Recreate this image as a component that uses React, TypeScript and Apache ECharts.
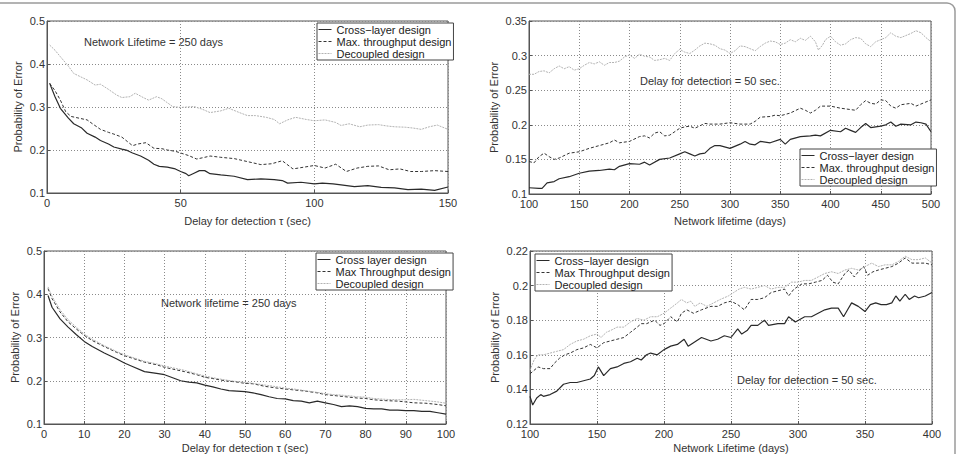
import React, { useEffect, useRef } from "react";
import * as echarts from "echarts";

const FONT = "'Liberation Sans', Arial, Helvetica, sans-serif";

type Pt = [number, number];

// Top-left: error vs detection delay (network lifetime 250 days)
const aCross: Pt[] = [
  [1, 0.355], [3, 0.324], [5, 0.297], [8, 0.274], [10, 0.261], [13, 0.251], [15, 0.239], [18, 0.23],
  [20, 0.222], [23, 0.214], [25, 0.207], [28, 0.202], [30, 0.199], [32, 0.193], [35, 0.186], [38, 0.176],
  [40, 0.167], [42, 0.162], [45, 0.16], [48, 0.156], [50, 0.15], [52, 0.145], [53, 0.14], [55, 0.146],
  [57, 0.152], [59, 0.152], [61, 0.145], [65, 0.142], [70, 0.139], [75, 0.131], [80, 0.133], [85, 0.131],
  [88, 0.129], [90, 0.123], [95, 0.125], [100, 0.121], [103, 0.123], [107, 0.121], [110, 0.119], [115, 0.115],
  [120, 0.117], [125, 0.113], [130, 0.112], [135, 0.108], [140, 0.109], [145, 0.106], [150, 0.114],
];
const aMax: Pt[] = [
  [1, 0.355], [3, 0.338], [5, 0.316], [7, 0.289], [9, 0.278], [12, 0.274], [15, 0.27], [17, 0.261],
  [20, 0.248], [23, 0.241], [25, 0.237], [28, 0.23], [30, 0.22], [32, 0.21], [34, 0.214], [37, 0.217],
  [40, 0.204], [43, 0.203], [45, 0.2], [48, 0.197], [50, 0.193], [53, 0.187], [56, 0.179], [59, 0.183],
  [61, 0.186], [65, 0.183], [70, 0.18], [75, 0.173], [80, 0.166], [84, 0.168], [88, 0.175], [92, 0.156],
  [95, 0.159], [100, 0.164], [104, 0.158], [108, 0.167], [112, 0.15], [116, 0.158], [120, 0.162], [124, 0.163],
  [128, 0.154], [132, 0.156], [136, 0.15], [140, 0.15], [145, 0.152], [150, 0.15],
];
const aDecoupled: Pt[] = [
  [1, 0.444], [3, 0.432], [5, 0.417], [8, 0.395], [10, 0.378], [12, 0.372], [15, 0.363], [18, 0.351],
  [20, 0.353], [23, 0.341], [26, 0.328], [28, 0.322], [31, 0.324], [33, 0.332], [36, 0.322], [38, 0.316],
  [41, 0.324], [43, 0.319], [45, 0.31], [47, 0.301], [50, 0.299], [55, 0.301], [58, 0.295], [61, 0.287],
  [65, 0.291], [68, 0.297], [72, 0.287], [75, 0.28], [78, 0.28], [82, 0.276], [85, 0.271], [87, 0.261],
  [90, 0.27], [93, 0.276], [97, 0.271], [100, 0.268], [104, 0.27], [108, 0.264], [110, 0.257], [113, 0.261],
  [117, 0.254], [120, 0.258], [124, 0.259], [127, 0.256], [130, 0.254], [134, 0.253], [137, 0.251], [140, 0.248],
  [143, 0.254], [146, 0.258], [150, 0.248],
];

// Top-right: error vs network lifetime (detection delay 50 s)
const bCross: Pt[] = [
  [100, 0.109], [110, 0.108], [113, 0.108], [118, 0.116], [125, 0.118], [130, 0.122], [140, 0.125], [150, 0.13],
  [160, 0.133], [170, 0.134], [180, 0.136], [185, 0.135], [190, 0.14], [200, 0.144], [210, 0.143], [215, 0.146],
  [220, 0.142], [230, 0.15], [240, 0.152], [250, 0.158], [255, 0.161], [260, 0.158], [265, 0.155], [270, 0.158],
  [275, 0.159], [280, 0.166], [285, 0.17], [290, 0.17], [300, 0.166], [310, 0.172], [315, 0.176], [320, 0.172],
  [325, 0.171], [330, 0.176], [340, 0.174], [350, 0.179], [355, 0.172], [360, 0.179], [370, 0.183], [380, 0.184],
  [385, 0.185], [390, 0.184], [400, 0.192], [410, 0.19], [415, 0.195], [420, 0.192], [425, 0.189], [430, 0.196],
  [435, 0.202], [440, 0.196], [450, 0.198], [455, 0.2], [460, 0.204], [465, 0.198], [470, 0.201], [480, 0.2],
  [485, 0.204], [490, 0.203], [495, 0.201], [500, 0.19],
];
const bMax: Pt[] = [
  [100, 0.147], [105, 0.145], [110, 0.154], [115, 0.159], [120, 0.154], [125, 0.15], [130, 0.152], [140, 0.159],
  [150, 0.161], [160, 0.166], [170, 0.17], [180, 0.174], [185, 0.178], [190, 0.174], [200, 0.176], [210, 0.183],
  [215, 0.184], [220, 0.181], [225, 0.188], [230, 0.19], [235, 0.184], [240, 0.185], [250, 0.195], [255, 0.197],
  [260, 0.198], [265, 0.195], [275, 0.202], [280, 0.201], [290, 0.201], [300, 0.203], [310, 0.201], [320, 0.201],
  [325, 0.205], [330, 0.211], [340, 0.212], [345, 0.214], [350, 0.213], [360, 0.217], [370, 0.224], [375, 0.221],
  [380, 0.217], [385, 0.221], [390, 0.227], [400, 0.227], [410, 0.224], [420, 0.222], [425, 0.221], [430, 0.229],
  [435, 0.235], [440, 0.231], [445, 0.23], [450, 0.236], [455, 0.235], [460, 0.227], [465, 0.224], [470, 0.229],
  [480, 0.231], [485, 0.227], [490, 0.23], [495, 0.233], [500, 0.236],
];
const bDecoupled: Pt[] = [
  [100, 0.273], [105, 0.273], [110, 0.277], [115, 0.278], [120, 0.275], [125, 0.281], [130, 0.285], [135, 0.281],
  [140, 0.284], [145, 0.279], [150, 0.281], [155, 0.286], [160, 0.29], [165, 0.288], [170, 0.291], [175, 0.286],
  [180, 0.29], [185, 0.29], [190, 0.292], [195, 0.298], [200, 0.301], [205, 0.296], [210, 0.302], [215, 0.299],
  [220, 0.298], [225, 0.293], [230, 0.294], [235, 0.296], [240, 0.293], [245, 0.303], [250, 0.309], [255, 0.305],
  [260, 0.303], [265, 0.308], [270, 0.314], [275, 0.318], [280, 0.317], [285, 0.315], [290, 0.31], [295, 0.308],
  [300, 0.303], [305, 0.307], [310, 0.314], [315, 0.313], [320, 0.31], [325, 0.307], [330, 0.313], [335, 0.318],
  [340, 0.321], [345, 0.32], [350, 0.316], [355, 0.318], [360, 0.323], [365, 0.32], [370, 0.325], [375, 0.322],
  [380, 0.328], [385, 0.32], [388, 0.308], [392, 0.315], [395, 0.323], [400, 0.328], [405, 0.32], [410, 0.315],
  [415, 0.317], [420, 0.323], [425, 0.326], [430, 0.325], [435, 0.317], [440, 0.313], [445, 0.32], [450, 0.323],
  [455, 0.326], [460, 0.333], [465, 0.328], [470, 0.326], [475, 0.329], [480, 0.332], [485, 0.336], [490, 0.333],
  [495, 0.326], [500, 0.32],
];

// Bottom-left: error vs detection delay (network lifetime 250 days)
const cCross: Pt[] = [
  [1, 0.397], [2, 0.37], [4, 0.343], [6, 0.324], [8, 0.307], [10, 0.291], [12, 0.279], [15, 0.264],
  [18, 0.251], [20, 0.241], [22, 0.233], [25, 0.221], [28, 0.217], [30, 0.214], [32, 0.207], [34, 0.2],
  [36, 0.197], [38, 0.195], [40, 0.19], [42, 0.186], [44, 0.181], [46, 0.177], [48, 0.176], [50, 0.175],
  [52, 0.172], [54, 0.168], [56, 0.163], [58, 0.159], [60, 0.158], [62, 0.154], [64, 0.153], [66, 0.149],
  [68, 0.153], [70, 0.149], [72, 0.145], [74, 0.14], [76, 0.142], [78, 0.14], [80, 0.136], [82, 0.135],
  [84, 0.135], [86, 0.132], [88, 0.132], [90, 0.131], [92, 0.131], [94, 0.129], [96, 0.129], [98, 0.126],
  [100, 0.123],
];
const cMax: Pt[] = [
  [1, 0.413], [2, 0.39], [4, 0.359], [6, 0.336], [8, 0.32], [10, 0.305], [12, 0.293], [15, 0.279],
  [18, 0.266], [20, 0.258], [22, 0.252], [25, 0.243], [28, 0.237], [30, 0.231], [32, 0.227], [35, 0.221],
  [38, 0.214], [40, 0.208], [42, 0.205], [45, 0.2], [48, 0.197], [50, 0.194], [52, 0.193], [55, 0.187],
  [58, 0.183], [60, 0.181], [62, 0.179], [65, 0.176], [68, 0.172], [70, 0.168], [72, 0.166], [75, 0.163],
  [78, 0.16], [80, 0.159], [82, 0.156], [85, 0.154], [88, 0.153], [90, 0.151], [92, 0.149], [95, 0.148],
  [98, 0.145], [100, 0.142],
];
const cDecoupled: Pt[] = [
  [1, 0.417], [2, 0.395], [4, 0.364], [6, 0.341], [8, 0.324], [10, 0.308], [12, 0.296], [15, 0.281],
  [18, 0.268], [20, 0.26], [22, 0.254], [25, 0.245], [28, 0.239], [30, 0.234], [32, 0.23], [35, 0.224],
  [38, 0.216], [40, 0.211], [42, 0.207], [45, 0.202], [48, 0.198], [50, 0.196], [52, 0.194], [55, 0.19],
  [58, 0.186], [60, 0.183], [62, 0.181], [65, 0.177], [68, 0.173], [70, 0.17], [72, 0.168], [75, 0.166],
  [78, 0.163], [80, 0.162], [82, 0.159], [85, 0.157], [88, 0.156], [90, 0.156], [92, 0.157], [95, 0.154],
  [98, 0.151], [100, 0.148],
];

// Bottom-right: error vs network lifetime (detection delay 50 s)
const dCross: Pt[] = [
  [100, 0.136], [102, 0.131], [105, 0.135], [108, 0.137], [110, 0.136], [115, 0.137], [120, 0.139], [125, 0.143],
  [130, 0.144], [135, 0.144], [140, 0.145], [145, 0.146], [148, 0.148], [151, 0.153], [155, 0.148], [160, 0.152],
  [165, 0.153], [170, 0.155], [175, 0.156], [180, 0.158], [183, 0.157], [187, 0.16], [190, 0.161], [195, 0.16],
  [200, 0.163], [205, 0.165], [210, 0.166], [215, 0.169], [218, 0.165], [222, 0.167], [228, 0.17], [235, 0.168],
  [240, 0.169], [245, 0.171], [250, 0.17], [255, 0.175], [258, 0.172], [262, 0.174], [265, 0.177], [270, 0.177],
  [275, 0.18], [278, 0.177], [285, 0.178], [290, 0.178], [293, 0.182], [298, 0.179], [305, 0.182], [310, 0.182],
  [315, 0.184], [320, 0.186], [325, 0.187], [330, 0.187], [334, 0.182], [337, 0.186], [340, 0.19], [345, 0.188],
  [350, 0.185], [354, 0.189], [358, 0.19], [362, 0.189], [366, 0.189], [370, 0.19], [373, 0.194], [376, 0.191],
  [380, 0.195], [383, 0.192], [387, 0.194], [390, 0.193], [395, 0.194], [400, 0.196],
];
const dMax: Pt[] = [
  [100, 0.149], [103, 0.151], [106, 0.153], [110, 0.152], [115, 0.152], [118, 0.155], [122, 0.158], [126, 0.16],
  [130, 0.161], [135, 0.163], [140, 0.164], [145, 0.166], [150, 0.164], [155, 0.167], [160, 0.168], [165, 0.169],
  [170, 0.17], [175, 0.173], [180, 0.176], [183, 0.178], [187, 0.178], [190, 0.179], [193, 0.18], [197, 0.177],
  [200, 0.178], [205, 0.182], [210, 0.179], [213, 0.184], [217, 0.186], [222, 0.184], [228, 0.186], [235, 0.188],
  [240, 0.188], [245, 0.19], [250, 0.191], [255, 0.189], [260, 0.186], [265, 0.192], [270, 0.192], [275, 0.193],
  [280, 0.196], [285, 0.197], [290, 0.198], [293, 0.194], [297, 0.198], [303, 0.201], [308, 0.201], [313, 0.202],
  [318, 0.203], [322, 0.206], [326, 0.202], [330, 0.201], [335, 0.207], [338, 0.209], [342, 0.205], [345, 0.208],
  [349, 0.211], [352, 0.206], [356, 0.208], [360, 0.209], [365, 0.21], [370, 0.211], [375, 0.213], [380, 0.216],
  [385, 0.213], [390, 0.213], [395, 0.213], [400, 0.212],
];
const dDecoupled: Pt[] = [
  [100, 0.151], [103, 0.157], [106, 0.16], [110, 0.16], [115, 0.161], [120, 0.162], [125, 0.163], [130, 0.166],
  [135, 0.168], [140, 0.169], [145, 0.171], [150, 0.172], [153, 0.17], [157, 0.173], [160, 0.174], [165, 0.176],
  [170, 0.176], [175, 0.179], [180, 0.181], [185, 0.18], [190, 0.182], [195, 0.182], [200, 0.184], [205, 0.187],
  [210, 0.19], [213, 0.192], [217, 0.19], [220, 0.191], [223, 0.188], [227, 0.19], [232, 0.188], [237, 0.19],
  [242, 0.192], [248, 0.194], [252, 0.196], [256, 0.198], [260, 0.199], [265, 0.198], [270, 0.199], [275, 0.2],
  [280, 0.198], [285, 0.199], [290, 0.199], [295, 0.202], [300, 0.202], [305, 0.203], [310, 0.203], [315, 0.205],
  [320, 0.207], [325, 0.208], [330, 0.207], [335, 0.209], [340, 0.21], [345, 0.209], [350, 0.211], [355, 0.213],
  [360, 0.211], [365, 0.212], [370, 0.212], [375, 0.214], [380, 0.217], [385, 0.215], [390, 0.215], [395, 0.216],
  [400, 0.213],
];

// Legend labels for each panel
const namesA = ["Cross\u2212layer design", "Max. throughput design", "Decoupled design"];
const namesC = ["Cross layer design", "Max Throughput design", "Decoupled design"];
const namesD = ["Cross\u2212layer design", "Max Throughput design", "Decoupled design"];

const SOLID = { color: "#2a2a2a", width: 1.2, type: "solid" as any };
const DASHED = { color: "#333333", width: 1, type: [3, 2] as any };
const DOTTED = { color: "#b2b2b2", width: 1, type: [2, 1] as any };

const axisText = { color: "#333", fontSize: 11, fontFamily: FONT };

function makeX(idx: number, min: number, max: number, interval: number, name: string, gap: number) {
  return {
    type: "value",
    gridIndex: idx,
    min,
    max,
    interval,
    name,
    nameLocation: "middle",
    nameGap: gap,
    nameTextStyle: axisText,
    axisLine: { show: true, onZero: false, lineStyle: { color: "#555", width: 1 } },
    axisTick: { show: true, inside: true, length: 3, lineStyle: { color: "#555" } },
    axisLabel: { ...axisText, margin: 4 },
    splitLine: { show: true, lineStyle: { color: "#8a8a8a", type: [1, 2], width: 1 } },
  };
}

function makeY(idx: number, min: number, max: number, interval: number, gap: number) {
  return {
    type: "value",
    gridIndex: idx,
    min,
    max,
    interval,
    name: "Probability of Error",
    nameLocation: "middle",
    nameGap: gap,
    nameTextStyle: axisText,
    axisLine: { show: true, onZero: false, lineStyle: { color: "#555", width: 1 } },
    axisTick: { show: true, inside: true, length: 3, lineStyle: { color: "#555" } },
    axisLabel: { ...axisText, margin: 2 },
    splitLine: { show: true, lineStyle: { color: "#8a8a8a", type: [1, 2], width: 1 } },
  };
}

function makeSeries(name: string, data: Pt[], idx: number, style: any) {
  return {
    type: "line",
    name,
    data,
    xAxisIndex: idx,
    yAxisIndex: idx,
    symbol: "none",
    showSymbol: false,
    lineStyle: style,
    itemStyle: { color: style.color },
    emphasis: { disabled: true },
    silent: true,
  };
}

function makeLegend(names: string[], left: number, top: number) {
  return {
    orient: "vertical",
    left,
    top,
    data: names,
    itemWidth: 13,
    itemHeight: 12,
    itemGap: 1,
    padding: [1, 2, 1, 1],
    borderColor: "#444",
    borderWidth: 1,
    backgroundColor: "#fff",
    selectedMode: false,
    // line sample only, no marker symbol
    itemStyle: { color: "rgba(0,0,0,0)", borderWidth: 0, opacity: 0 },
    lineStyle: { width: 1 },
    textStyle: { color: "#222", fontSize: 11, fontFamily: FONT },
  };
}

function note(text: string, x: number, y: number) {
  return {
    type: "text",
    x,
    y,
    silent: true,
    style: { text, fill: "#333", font: `11px ${FONT}`, verticalAlign: "middle" },
  };
}

export default function App() {
  const ref = useRef<HTMLDivElement>(null);

  useEffect(() => {
    if (!ref.current) return;
    const chart = echarts.init(ref.current, undefined, { renderer: "svg" });
    chart.setOption({
      animation: false,
      backgroundColor: "#fff",
      grid: [
        { left: 47, top: 21, width: 401, height: 172, show: true, borderColor: "#555", borderWidth: 1, backgroundColor: "#fff" },
        { left: 529, top: 21, width: 402, height: 173, show: true, borderColor: "#555", borderWidth: 1, backgroundColor: "#fff" },
        { left: 44, top: 251, width: 402, height: 173, show: true, borderColor: "#555", borderWidth: 1, backgroundColor: "#fff" },
        { left: 530, top: 251, width: 402, height: 174, show: true, borderColor: "#555", borderWidth: 1, backgroundColor: "#fff" },
      ],
      xAxis: [
        makeX(0, 0, 150, 50, "Delay for detection \u03c4 (sec)", 22),
        makeX(1, 100, 500, 50, "Network lifetime (days)", 21),
        makeX(2, 0, 100, 10, "Delay for detection \u03c4 (sec)", 18),
        makeX(3, 100, 400, 50, "Network Lifetime (days)", 18),
      ],
      yAxis: [
        makeY(0, 0.1, 0.5, 0.1, 24),
        makeY(1, 0.1, 0.35, 0.05, 30),
        makeY(2, 0.1, 0.5, 0.1, 24),
        makeY(3, 0.12, 0.22, 0.02, 30),
      ],
      legend: [
        makeLegend(namesA, 317, 23),
        makeLegend(namesA, 800, 149),
        makeLegend(namesC, 316, 253),
        makeLegend(namesD, 535, 254),
      ],
      series: [
        makeSeries(namesA[0], aCross, 0, SOLID),
        makeSeries(namesA[1], aMax, 0, DASHED),
        makeSeries(namesA[2], aDecoupled, 0, DOTTED),
        makeSeries(namesA[0], bCross, 1, SOLID),
        makeSeries(namesA[1], bMax, 1, DASHED),
        makeSeries(namesA[2], bDecoupled, 1, DOTTED),
        makeSeries(namesC[0], cCross, 2, SOLID),
        makeSeries(namesC[1], cMax, 2, DASHED),
        makeSeries(namesC[2], cDecoupled, 2, DOTTED),
        makeSeries(namesD[0], dCross, 3, SOLID),
        makeSeries(namesD[1], dMax, 3, DASHED),
        makeSeries(namesD[2], dDecoupled, 3, DOTTED),
      ],
      graphic: [
        {
          type: "rect",
          silent: true,
          z: -10,
          shape: { x: -20, y: 3, width: 975, height: 480, r: 8 },
          style: { fill: "none", stroke: "#9a9a9a", lineWidth: 1.5 },
        },
        note("Network Lifetime = 250 days", 84, 42),
        note("Delay for detection = 50 sec.", 640, 81),
        note("Network lifetime = 250 days", 161, 303),
        note("Delay for detection = 50 sec.", 737, 380),
      ],
    });
    return () => chart.dispose();
  }, []);

  return (
    <div
      ref={ref}
      style={{ position: "fixed", left: 0, top: 0, width: 958, height: 454, background: "#fff" }}
    />
  );
}
